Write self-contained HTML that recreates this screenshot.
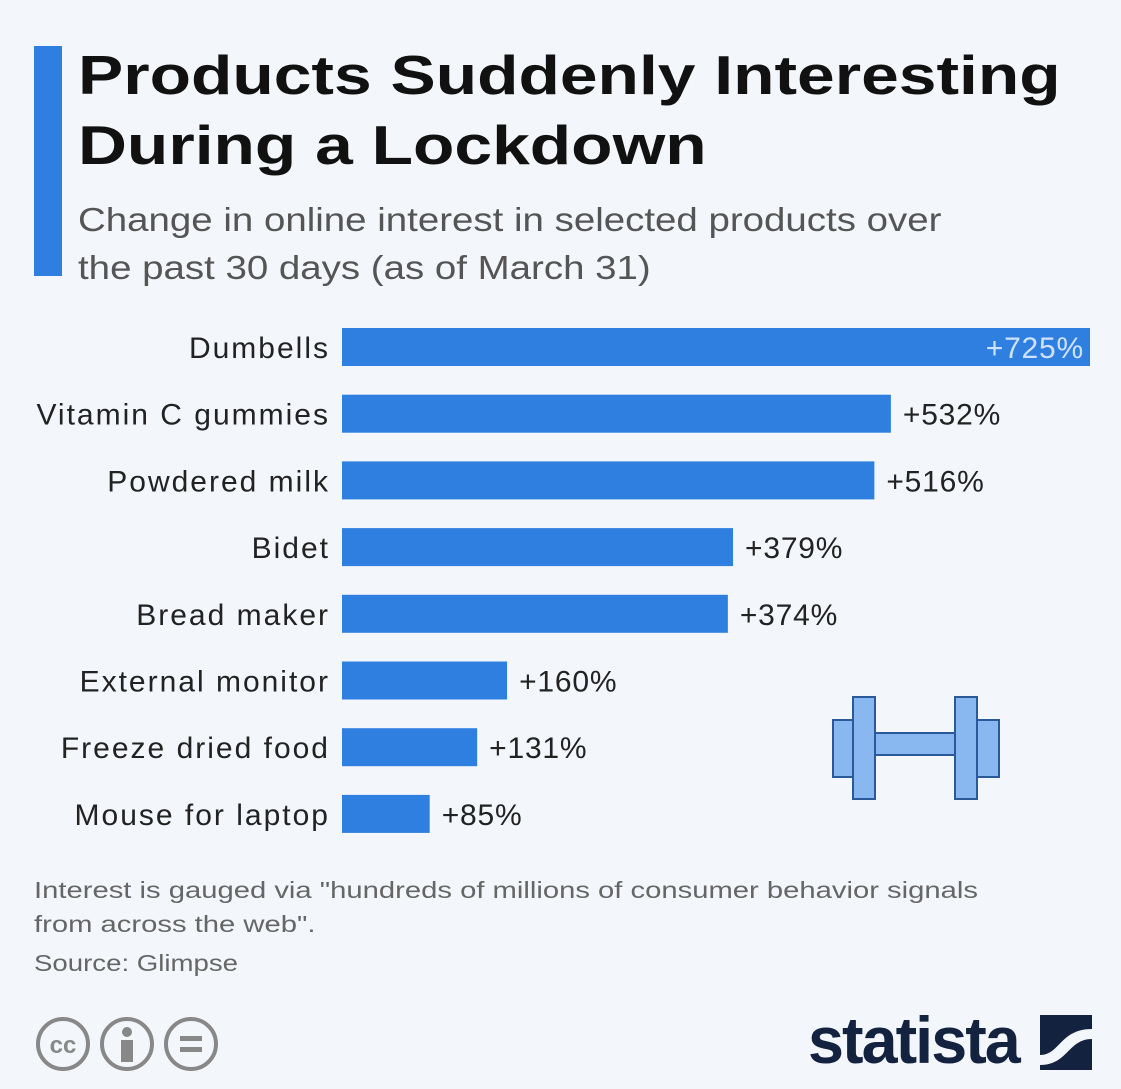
<!DOCTYPE html>
<html><head><meta charset="utf-8"><style>
body{margin:0;width:1121px;height:1089px;background:#f3f6fa;font-family:"Liberation Sans","DejaVu Sans",sans-serif;position:relative;overflow:hidden}
.abs{position:absolute;white-space:nowrap}
</style></head><body>
<div class="abs" style="left:34px;top:46px;width:28px;height:230px;background:#2f7fe0"></div>
<div class="abs" style="left:78px;top:40px;font-size:55px;font-weight:bold;line-height:70px;color:#111;transform:scaleX(1.232);transform-origin:left top">Products Suddenly Interesting<br>During a Lockdown</div>
<div class="abs" style="left:78px;top:196px;font-size:33px;line-height:48px;color:#555;transform:scaleX(1.165);transform-origin:left top">Change in online interest in selected products over<br>the past 30 days (as of March 31)</div>
<svg class="abs" style="left:0;top:0" width="1121" height="1089">
<g id="bars"></g>
<g>
<rect x="833" y="720" width="22" height="57" fill="#89b8f0" stroke="#2a5a9a" stroke-width="2"/>
<rect x="853" y="697" width="22" height="102" fill="#89b8f0" stroke="#2a5a9a" stroke-width="2"/>
<rect x="875" y="733" width="80" height="22" fill="#89b8f0" stroke="#2a5a9a" stroke-width="2"/>
<rect x="955" y="697" width="22" height="102" fill="#89b8f0" stroke="#2a5a9a" stroke-width="2"/>
<rect x="977" y="720" width="22" height="57" fill="#89b8f0" stroke="#2a5a9a" stroke-width="2"/>
</g>
</svg>
<div class="abs" style="left:34px;top:873px;font-size:23px;line-height:34px;color:#666;transform:scaleX(1.27);transform-origin:left top">Interest is gauged via "hundreds of millions of consumer behavior signals<br>from across the web".</div>
<div class="abs" style="left:34px;top:950px;font-size:23px;color:#666;transform:scaleX(1.2);transform-origin:left top">Source: Glimpse</div>
<svg class="abs" style="left:30px;top:1012px" width="200" height="64">
<g fill="none" stroke="#888" stroke-width="4">
<circle cx="33" cy="32" r="25"/><circle cx="97" cy="32" r="25"/><circle cx="161" cy="32" r="25"/></g>
<text x="33" y="41" font-size="24" font-weight="bold" fill="#888" text-anchor="middle" font-family="Liberation Sans">cc</text>
<circle cx="97" cy="20" r="5" fill="#888"/><rect x="91" y="28" width="12" height="22" fill="#888"/>
<rect x="150" y="24" width="22" height="5" fill="#888"/><rect x="150" y="35" width="22" height="5" fill="#888"/>
</svg>
<div class="abs" style="left:808px;top:1002px;font-size:66px;font-weight:bold;color:#13223f;letter-spacing:-2px;transform:scaleX(0.98);transform-origin:left">statista</div>
<svg class="abs" style="left:1040px;top:1015px" width="52" height="55">
<rect width="52" height="55" fill="#13223f"/><path d="M0 40 C20 40 20 14 52 14 L52 24 C28 24 28 50 0 50Z" fill="#f3f6fa"/>
</svg>
<script>
const categories=["Dumbells","Vitamin C gummies","Powdered milk","Bidet","Bread maker","External monitor","Freeze dried food","Mouse for laptop"];
const values=[725,532,516,379,374,160,131,85];
const valueLabels=["+725%","+532%","+516%","+379%","+374%","+160%","+131%","+85%"];
const NS="http://www.w3.org/2000/svg";
const g=document.getElementById('bars');
const x0=342,xMax=725,wMax=748;
const xs=v=>v/xMax*wMax;
const ys=i=>347+i*66.7;
categories.forEach((c,i)=>{
 const y=ys(i),w=xs(values[i]);
 const r=document.createElementNS(NS,'rect');
 
 
 r.setAttribute('x',x0);r.setAttribute('y',y-19);r.setAttribute('width',w);r.setAttribute('height',38);r.setAttribute('fill','#2f7fe0');
 g.appendChild(r);
 const t=document.createElementNS(NS,'text');
 
 
 t.setAttribute('x',330);t.setAttribute('y',y+11);t.setAttribute('text-anchor','end');t.setAttribute('font-size','30');t.setAttribute('letter-spacing','2');t.setAttribute('fill','#222');
 t.textContent=c;g.appendChild(t);
 const v=document.createElementNS(NS,'text');
 
 
 const inside=i===0;
 v.setAttribute('x',inside?x0+w-6:x0+w+12);v.setAttribute('y',y+11);v.setAttribute('text-anchor',inside?'end':'start');
 v.setAttribute('font-size','30');v.setAttribute('letter-spacing','0.8');v.setAttribute('fill',inside?'#cfe2fb':'#222');
 v.textContent=valueLabels[i];g.appendChild(v);
});
</script>
</body></html>
